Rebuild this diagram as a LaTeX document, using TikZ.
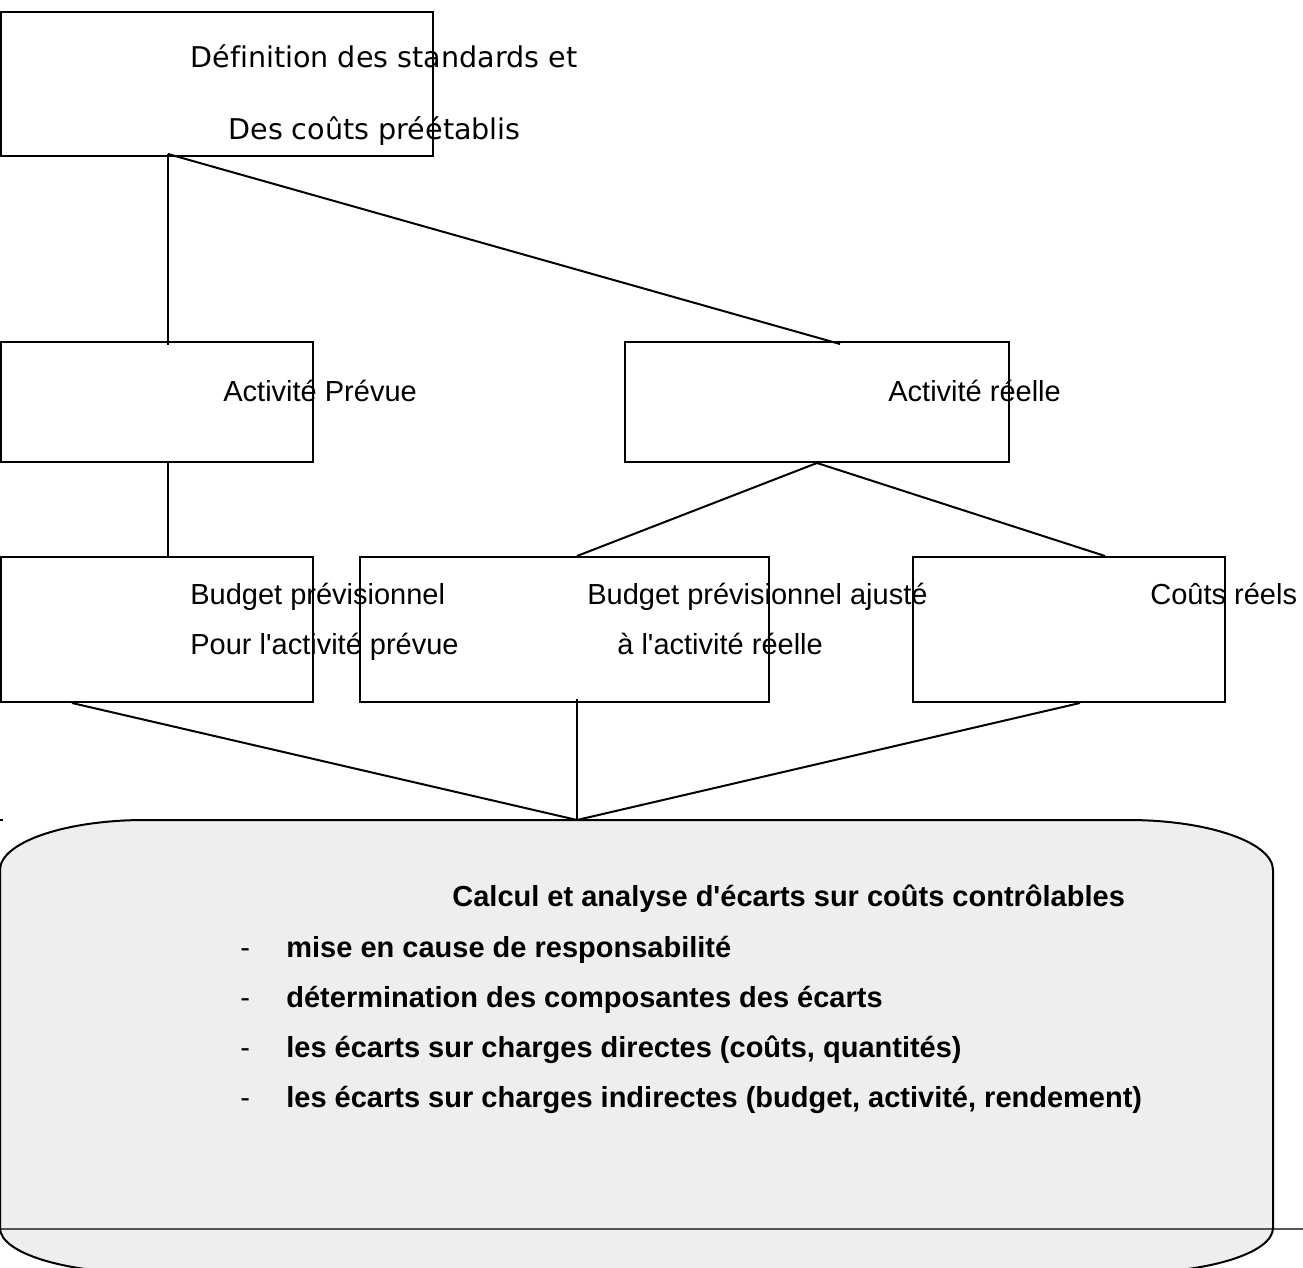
\documentclass[tikz,border=0pt]{standalone}
\usepackage{fontspec}
\setmainfont{Liberation Sans}
\newfontfamily\dejavu{DejaVu Sans}[Ligatures={NoCommon}]
\usepackage{xcolor}
\usepackage{tikz}
\usetikzlibrary{calc}
\definecolor{calcfill}{HTML}{EEEEEE}
\definecolor{rulegray}{HTML}{555555}

\begin{document}
\begin{tikzpicture}[
  x=0.5pt, y=-0.5pt,
  box/.style={rectangle,draw,line width=1pt,inner sep=0pt,anchor=north west},
  txt/.style={inner sep=0pt,anchor=base west,font=\fontsize{14.5}{17}\selectfont},
  dvtxt/.style={inner sep=0pt,anchor=base west,font=\dejavu\fontsize{14.3}{17}\selectfont},
  btxt/.style={txt,font=\fontsize{14.5}{17}\selectfont\bfseries},
  link/.style={line width=1pt},
]
\useasboundingbox (0,0) rectangle (1303,1268);
\clip (0,0) rectangle (1303,1268);

% boxes
\node[box,minimum width=216pt,minimum height=72pt] (def) at (0,11) {};
\node[box,minimum width=156pt,minimum height=60pt] (prev) at (0,341) {};
\node[box,minimum width=192pt,minimum height=60pt] (reel) at (624,341) {};
\node[box,minimum width=156pt,minimum height=72.5pt] (bud) at (0,556) {};
\node[box,minimum width=204.5pt,minimum height=72.5pt] (adj) at (359,556) {};
\node[box,minimum width=156pt,minimum height=72.5pt] (cout) at (912,556) {};

% calcul shape
\fill[calcfill] (0,870) .. controls (0,842.4) and (65,820) .. (145,820) -- (1128,820)
  .. controls (1208,820) and (1273,842.4) .. (1273,870) -- (1273,1228)
  .. controls (1273,1253) and (1208,1273) .. (1128,1273) -- (145,1273)
  .. controls (65,1273) and (0,1253) .. (0,1228) -- cycle;
\draw[rulegray,line width=0.8pt] (0,1229) -- (1303,1229);
\draw[link] (0,1228) -- (0,870) .. controls (0,842.4) and (65,820) .. (145,820) -- (1128,820)
  .. controls (1208,820) and (1273,842.4) .. (1273,870) -- (1273,1228)
  .. controls (1273,1253) and (1208,1273) .. (1128,1273) -- (145,1273)
  .. controls (65,1273) and (0,1253) .. (0,1228);
\draw[link] (0,820) -- (3,820);
\coordinate (calc) at (577,820);

% texts
\node[dvtxt] (deft1) at (190,68) {Définition des standards et};
\node[dvtxt] (deft2) at (228,140) {Des coûts préétablis};
\node[txt] (prevt) at (223,401) {Activité Prévue};
\node[txt] (reelt) at (888,401) {Activité réelle};
\node[txt] (budt1) at (190,604) {Budget prévisionnel};
\node[txt] (budt2) at (190,654) {Pour l\textquotesingle activité prévue};
\node[txt] (adjt1) at (587,604) {Budget prévisionnel ajusté};
\node[txt] (adjt2) at (617,654) {à l\textquotesingle activité réelle};
\node[txt] (coutt) at (1150,604) {Coûts réels};
\node[btxt] (calct) at (452,906) {Calcul et analyse d\textquotesingle écarts sur coûts contrôlables};
\node[txt] (d1) at (240,957) {-};
\node[btxt] (l1) at (286,957) {mise en cause de responsabilité};
\node[txt] (d2) at (240,1007) {-};
\node[btxt] (l2) at (286,1007) {détermination des composantes des écarts};
\node[txt] (d3) at (240,1057) {-};
\node[btxt] (l3) at (286,1057) {les écarts sur charges directes (coûts, quantités)};
\node[txt] (d4) at (240,1107) {-};
\node[btxt] (l4) at (286,1107) {les écarts sur charges indirectes (budget, activité, rendement)};

% connectors
\coordinate (defout) at ($(def.south west)+(168,-3)$);
\coordinate (previn) at ($(prev.north west)+(168,4)$);
\coordinate (reelin) at ($(reel.north west)+(216,3)$);
\coordinate (adjin) at ($(adj.north west)+(218,0)$);
\coordinate (adjout) at ($(adj.south west)+(218,-4)$);
\coordinate (coutin) at ($(cout.north west)+(193,0)$);
\coordinate (coutout) at ($(cout.south west)+(168,0)$);
\draw[link] (defout) -- (previn);
\draw[link] (defout) -- (reelin);
\draw[link] (prev.south west -| defout) -- (bud.north west -| defout);
\draw[link] (reel.south) -- (adjin);
\draw[link] (reel.south) -- (coutin);
\draw[link] ($(bud.south west)+(72,0)$) -- (calc);
\draw[link] (adjout) -- (calc);
\draw[link] (coutout) -- (calc);
\end{tikzpicture}
\end{document}
